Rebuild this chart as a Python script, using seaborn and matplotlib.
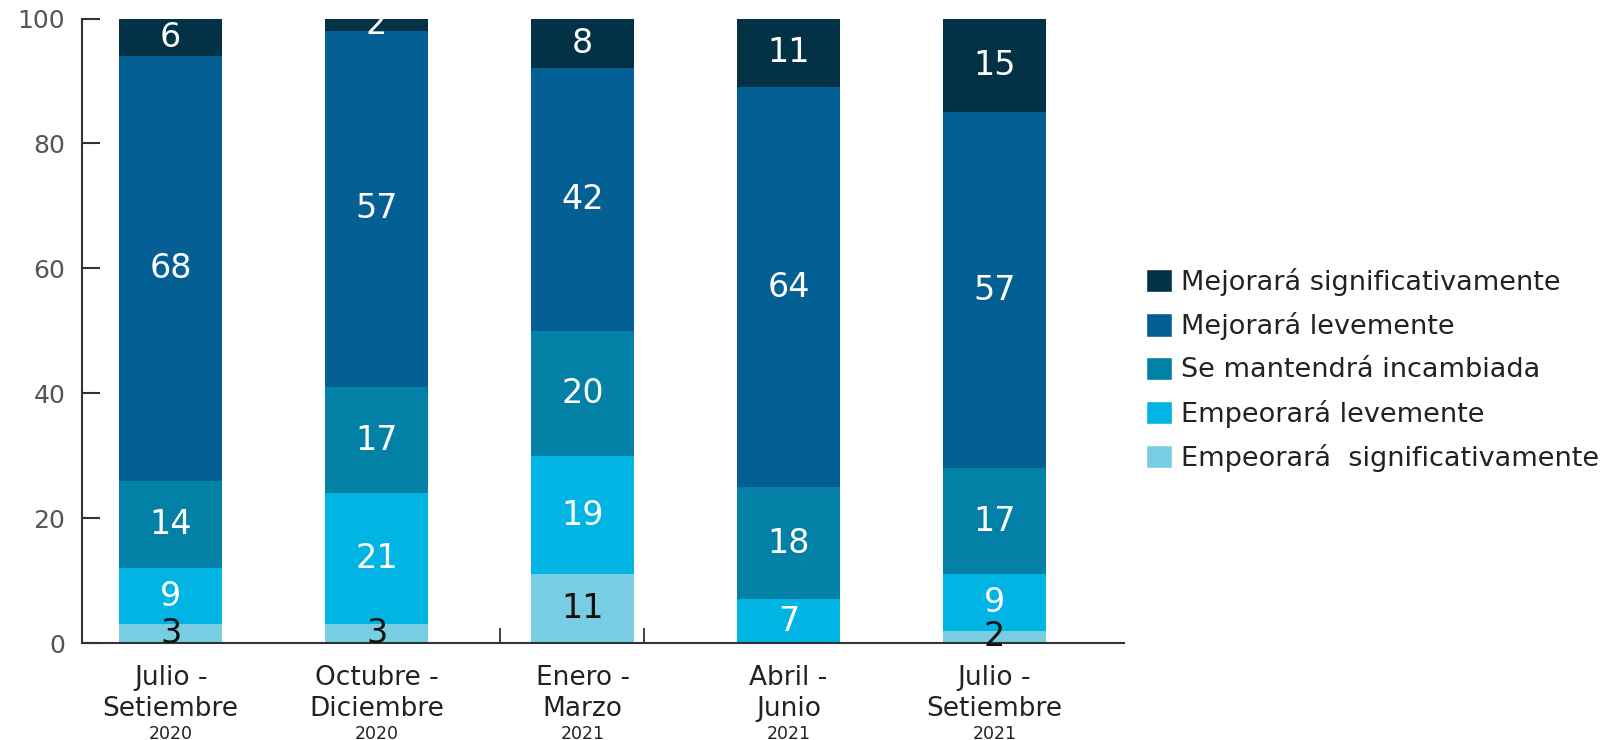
"""Stacked bar chart: expectativas por trimestre."""

import matplotlib

matplotlib.use("Agg")
import matplotlib.pyplot as plt
import numpy as np
import pandas as pd
import seaborn as sns
from matplotlib.patches import Patch

periods = ["Jul-Set 2020", "Oct-Dic 2020", "Ene-Mar 2021", "Abr-Jun 2021", "Jul-Set 2021"]
period_labels = ["Julio -\nSetiembre", "Octubre -\nDiciembre", "Enero -\nMarzo",
                 "Abril -\nJunio", "Julio -\nSetiembre"]
years = ["2020", "2020", "2021", "2021", "2021"]

# stacked from bottom to top
categories = [
    "Empeorará  significativamente",
    "Empeorará levemente",
    "Se mantendrá incambiada",
    "Mejorará levemente",
    "Mejorará significativamente",
]
empeora_sig = [3, 3, 11, 0, 2]
empeora_lev = [9, 21, 19, 7, 9]
se_mantiene = [14, 17, 20, 18, 17]
mejora_lev = [68, 57, 42, 64, 57]
mejora_sig = [6, 2, 8, 11, 15]

colors = ["#78cde2", "#00b4e4", "#0280a5", "#035f94", "#033246"]
label_colors = ["#111111", "white", "white", "white", "white"]

values = np.array([empeora_sig, empeora_lev, se_mantiene, mejora_lev, mejora_sig], dtype=float)
cum = values.cumsum(axis=0)

sns.set_style("white")
plt.rcParams["font.family"] = ["DejaVu Sans"]

fig = plt.figure(figsize=(16.21, 7.4), dpi=100)
ax = fig.add_axes([0.0506, 0.131, 0.643, 0.844])

# draw cumulative totals from the top layer down so each overlaps the next
for k in range(len(categories) - 1, -1, -1):
    df = pd.DataFrame({"periodo": periods, "total": cum[k]})
    sns.barplot(data=df, x="periodo", y="total", order=periods, color=colors[k],
                width=0.5, saturation=1, linewidth=0, ax=ax)

for k in range(len(categories)):
    for i in range(len(periods)):
        v = values[k, i]
        if v <= 0:
            continue
        center = cum[k, i] - v / 2
        ax.text(i, center, f"{int(v)}", ha="center", va="center",
                fontsize=24, color=label_colors[k])

ax.set_xlim(-0.43, 4.63)
ax.set_ylim(0, 100)
ax.set_yticks([0, 20, 40, 60, 80, 100])
ax.set_xlabel("")
ax.set_ylabel("")
ax.set_xticks(range(len(periods)))
ax.set_xticklabels(period_labels, fontsize=19, color="#222222", linespacing=1.25)
ax.set_xticks([1.6, 2.3], minor=True)
ax.tick_params(axis="x", which="major", bottom=False, length=0, pad=16)
ax.tick_params(axis="x", which="minor", bottom=True, direction="in", length=11,
               width=1.3, color="#333333")
ax.tick_params(axis="y", left=True, direction="in", length=13, width=1.5, color="#333333",
               labelsize=18, labelcolor="#555555", pad=12)

for i, yr in enumerate(years):
    ax.annotate(yr, xy=(i, 0), xycoords=("data", "axes fraction"), xytext=(0, -59),
                textcoords="offset points", ha="center", va="top", fontsize=12.5,
                color="#222222")

sns.despine(ax=ax)
for side in ["left", "bottom"]:
    ax.spines[side].set_color("#333333")
    ax.spines[side].set_linewidth(1.5)

handles = [Patch(facecolor=colors[k], label=categories[k]) for k in range(len(categories) - 1, -1, -1)]
fig.legend(handles=handles, loc="center left", bbox_to_anchor=(0.692, 0.5), frameon=False,
           fontsize=19.5, handlelength=0.95, handleheight=0.95, handletextpad=0.35,
           labelspacing=0.6, labelcolor="#222222")

fig.savefig("out.png", dpi=100)
